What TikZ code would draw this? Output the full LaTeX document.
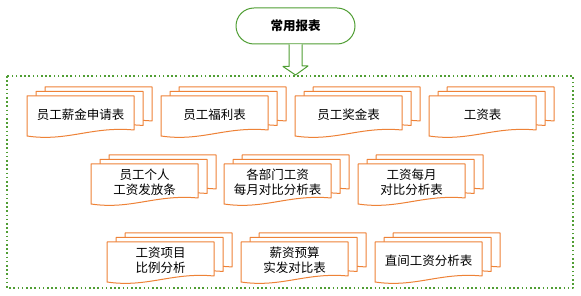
\documentclass[tikz,border=0pt]{standalone}
\usepackage{fontspec}
\newfontfamily\cjk{Noto Sans CJK SC}
\usetikzlibrary{calc}
\definecolor{docorange}{RGB}{238,130,55}
\definecolor{boxgreen}{RGB}{80,158,52}
\tikzset{
	page/.style={fill=white, draw=docorange, line width=1pt},
	doctext/.style={align=center, font=\cjk\fontsize{12.5}{15}\selectfont},
	title/.style={draw=boxgreen, line width=1pt, fill=white, rounded corners=18pt,
		minimum width=119pt, minimum height=36pt, font=\cjk\bfseries\fontsize{12.5}{15}\selectfont},
	frame/.style={draw=boxgreen, line width=1.6pt, dash pattern=on 1.6pt off 2.6pt},
	hollow/.style={draw=boxgreen, line width=1pt, fill=white},
}
% three stacked pages, front page top-left at #2
\newcommand\docstack[3]{%
	\foreach \k in {2,1,0}
	{\filldraw[page, shift={($(#2)+(9*\k,-4.5*\k)$)}] (0,0) -- (107,0) -- (107,34)
		.. controls (65,30) and (40,46) .. (0,40) -- cycle;}
	\node[doctext] (#1) at ($(#2)+(53.5,18.5)$) {#3};
}
\begin{document}
\begin{tikzpicture}[x=1pt, y=-1pt, line join=round]
	\useasboundingbox (0,0) rectangle (581,296);
	\path (7,76) coordinate (fa) (573,288) coordinate (fb) %frame
		(27,96) coordinate (p1) (161,96) coordinate (p2) (295,96) coordinate (p3) (429,96) coordinate (p4)
		(91,164) coordinate (p5) (224,164) coordinate (p6) (358,164) coordinate (p7)
		(107,242) coordinate (p8) (241,242) coordinate (p9) (375,242) coordinate (p10);
	\draw[frame] (fa) rectangle (fb);
	\node[title] (top) at (295.5,26) {常用报表};
	\coordinate (tip) at ($(top.south |- fa)+(0,-1)$);
	\filldraw[hollow] ($(top.south)+(-6.5,0)$) -- ++(0,22) -- ++(-6,0) -- (tip)
		-- ($(tip)+(12.5,-9)$) -- ++(-6,0) -- ($(top.south)+(6.5,0)$);
	\foreach \n/\t in {1/员工薪金申请表, 2/员工福利表, 3/员工奖金表, 4/工资表,
		5/{员工个人\\工资发放条}, 6/{各部门工资\\每月对比分析表}, 7/{工资每月\\对比分析表},
		8/{工资项目\\比例分析}, 9/{薪资预算\\实发对比表}, 10/直间工资分析表}
	{\docstack{d\n}{p\n}{\t}}
\end{tikzpicture}
\end{document}
